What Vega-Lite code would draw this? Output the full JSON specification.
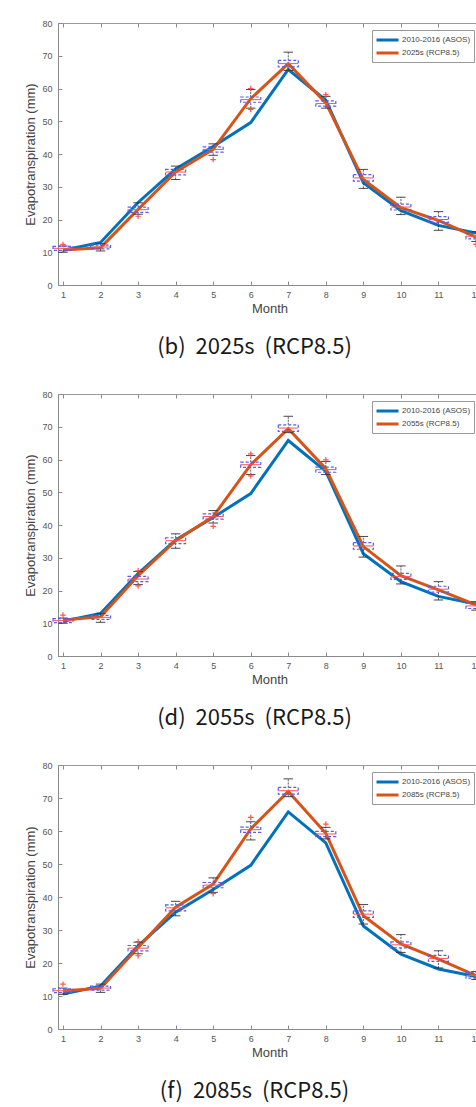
{
  "$schema": "https://vega.github.io/schema/vega-lite/v6.json",
  "padding": {"left": 24, "top": 18, "right": 0, "bottom": 0},
  "background": "white",
  "spacing": 30,
  "config": {
    "view": {"stroke": "#9a9a9a", "strokeWidth": 1},
    "axis": {"domainColor": "#8a8a8a", "tickColor": "#8a8a8a", "labelColor": "#555555", "titleColor": "#444444", "labelFont": "Liberation Sans", "titleFont": "Liberation Sans", "labelFontSize": 9, "titleFontSize": 13, "titleFontWeight": "normal", "grid": false, "tickSize": -4, "labelOverlap": false, "labelSeparation": 0},
    "axisX": {"labelPadding": 9, "titlePadding": 3},
    "axisY": {"labelPadding": 10, "titlePadding": 4},
    "title": {"orient": "bottom", "anchor": "middle", "font": "Noto Sans CJK KR", "fontSize": 22, "fontWeight": "normal", "color": "#1a1a1a", "offset": 22, "dx": -15},
    "legend": {"orient": "none", "legendX": 314, "legendY": 7, "title": null, "strokeColor": "#999999", "fillColor": "white", "padding": 3, "labelFont": "Liberation Sans", "labelFontSize": 8, "labelColor": "#444444", "symbolType": "M-1,0H3", "symbolStrokeWidth": 3, "symbolSize": 121, "rowPadding": 0, "labelOffset": 13}
  },
  "datasets": {
    "obs": [
      {"month": 1, "series": "2010-2016 (ASOS)", "value": 10.6},
      {"month": 2, "series": "2010-2016 (ASOS)", "value": 13.0},
      {"month": 3, "series": "2010-2016 (ASOS)", "value": 25.2},
      {"month": 4, "series": "2010-2016 (ASOS)", "value": 35.4},
      {"month": 5, "series": "2010-2016 (ASOS)", "value": 42.3},
      {"month": 6, "series": "2010-2016 (ASOS)", "value": 49.6},
      {"month": 7, "series": "2010-2016 (ASOS)", "value": 65.8},
      {"month": 8, "series": "2010-2016 (ASOS)", "value": 56.4},
      {"month": 9, "series": "2010-2016 (ASOS)", "value": 31.2},
      {"month": 10, "series": "2010-2016 (ASOS)", "value": 22.7},
      {"month": 11, "series": "2010-2016 (ASOS)", "value": 18.2},
      {"month": 12, "series": "2010-2016 (ASOS)", "value": 15.9}
    ],
    "rcp_b": [
      {"month": 1, "series": "2025s (RCP8.5)", "value": 10.7},
      {"month": 2, "series": "2025s (RCP8.5)", "value": 11.4},
      {"month": 3, "series": "2025s (RCP8.5)", "value": 23.1},
      {"month": 4, "series": "2025s (RCP8.5)", "value": 34.5},
      {"month": 5, "series": "2025s (RCP8.5)", "value": 41.4},
      {"month": 6, "series": "2025s (RCP8.5)", "value": 56.9},
      {"month": 7, "series": "2025s (RCP8.5)", "value": 67.6},
      {"month": 8, "series": "2025s (RCP8.5)", "value": 55.6},
      {"month": 9, "series": "2025s (RCP8.5)", "value": 32.2},
      {"month": 10, "series": "2025s (RCP8.5)", "value": 23.6},
      {"month": 11, "series": "2025s (RCP8.5)", "value": 19.7},
      {"month": 12, "series": "2025s (RCP8.5)", "value": 14.6}
    ],
    "rcp_d": [
      {"month": 1, "series": "2055s (RCP8.5)", "value": 11.0},
      {"month": 2, "series": "2055s (RCP8.5)", "value": 12.0},
      {"month": 3, "series": "2055s (RCP8.5)", "value": 24.5},
      {"month": 4, "series": "2055s (RCP8.5)", "value": 35.2},
      {"month": 5, "series": "2055s (RCP8.5)", "value": 42.6},
      {"month": 6, "series": "2055s (RCP8.5)", "value": 58.4},
      {"month": 7, "series": "2055s (RCP8.5)", "value": 69.4},
      {"month": 8, "series": "2055s (RCP8.5)", "value": 57.2},
      {"month": 9, "series": "2055s (RCP8.5)", "value": 33.4},
      {"month": 10, "series": "2055s (RCP8.5)", "value": 24.5},
      {"month": 11, "series": "2055s (RCP8.5)", "value": 20.2},
      {"month": 12, "series": "2055s (RCP8.5)", "value": 15.6}
    ],
    "rcp_f": [
      {"month": 1, "series": "2085s (RCP8.5)", "value": 11.6},
      {"month": 2, "series": "2085s (RCP8.5)", "value": 12.3},
      {"month": 3, "series": "2085s (RCP8.5)", "value": 24.7},
      {"month": 4, "series": "2085s (RCP8.5)", "value": 36.9},
      {"month": 5, "series": "2085s (RCP8.5)", "value": 43.9},
      {"month": 6, "series": "2085s (RCP8.5)", "value": 60.6},
      {"month": 7, "series": "2085s (RCP8.5)", "value": 72.0},
      {"month": 8, "series": "2085s (RCP8.5)", "value": 59.3},
      {"month": 9, "series": "2085s (RCP8.5)", "value": 34.3},
      {"month": 10, "series": "2085s (RCP8.5)", "value": 25.8},
      {"month": 11, "series": "2085s (RCP8.5)", "value": 21.2},
      {"month": 12, "series": "2085s (RCP8.5)", "value": 16.2}
    ],
    "box_b": [
      {"month": 1, "med": 11.2, "q1": 10.6, "q3": 11.8, "lo": 10.0, "hi": 11.9},
      {"month": 2, "med": 11.6, "q1": 11.0, "q3": 12.2, "lo": 10.4, "hi": 12.6},
      {"month": 3, "med": 23.0, "q1": 22.2, "q3": 23.8, "lo": 21.6, "hi": 25.1},
      {"month": 4, "med": 34.5, "q1": 33.6, "q3": 35.3, "lo": 32.2, "hi": 36.3},
      {"month": 5, "med": 41.4, "q1": 40.6, "q3": 42.2, "lo": 39.6, "hi": 43.1},
      {"month": 6, "med": 56.6, "q1": 55.8, "q3": 57.4, "lo": 54.0, "hi": 59.7},
      {"month": 7, "med": 67.6, "q1": 66.6, "q3": 68.6, "lo": 65.5, "hi": 71.1},
      {"month": 8, "med": 55.4, "q1": 54.6, "q3": 56.2, "lo": 54.0, "hi": 57.6},
      {"month": 9, "med": 32.7, "q1": 31.7, "q3": 33.7, "lo": 29.5, "hi": 35.3},
      {"month": 10, "med": 23.8, "q1": 22.9, "q3": 24.7, "lo": 21.5, "hi": 26.8},
      {"month": 11, "med": 20.0, "q1": 19.1, "q3": 20.9, "lo": 16.7, "hi": 22.4},
      {"month": 12, "med": 14.9, "q1": 14.1, "q3": 15.7, "lo": 13.3, "hi": 16.3}
    ],
    "box_d": [
      {"month": 1, "med": 10.8, "q1": 10.2, "q3": 11.4, "lo": 10.0, "hi": 11.6},
      {"month": 2, "med": 11.8, "q1": 11.2, "q3": 12.4, "lo": 10.3, "hi": 13.0},
      {"month": 3, "med": 23.5, "q1": 22.7, "q3": 24.3, "lo": 21.8, "hi": 25.8},
      {"month": 4, "med": 35.2, "q1": 34.3, "q3": 36.1, "lo": 32.9, "hi": 37.3},
      {"month": 5, "med": 42.6, "q1": 41.8, "q3": 43.4, "lo": 40.6, "hi": 44.4},
      {"month": 6, "med": 58.4, "q1": 57.6, "q3": 59.2, "lo": 55.4, "hi": 61.2},
      {"month": 7, "med": 69.6, "q1": 68.6, "q3": 70.6, "lo": 68.2, "hi": 73.2},
      {"month": 8, "med": 56.9, "q1": 56.1, "q3": 57.7, "lo": 55.4, "hi": 59.4},
      {"month": 9, "med": 33.6, "q1": 32.6, "q3": 34.6, "lo": 30.2, "hi": 36.5},
      {"month": 10, "med": 24.3, "q1": 23.4, "q3": 25.2, "lo": 22.0, "hi": 27.5},
      {"month": 11, "med": 20.4, "q1": 19.5, "q3": 21.3, "lo": 17.1, "hi": 22.7},
      {"month": 12, "med": 15.3, "q1": 14.5, "q3": 16.1, "lo": 14.0, "hi": 16.6}
    ],
    "box_f": [
      {"month": 1, "med": 11.6, "q1": 11.0, "q3": 12.2, "lo": 10.5, "hi": 12.4},
      {"month": 2, "med": 12.4, "q1": 11.8, "q3": 13.0, "lo": 11.1, "hi": 13.6},
      {"month": 3, "med": 24.5, "q1": 23.7, "q3": 25.3, "lo": 22.8, "hi": 26.3},
      {"month": 4, "med": 36.7, "q1": 35.8, "q3": 37.6, "lo": 34.3, "hi": 38.7},
      {"month": 5, "med": 43.6, "q1": 42.8, "q3": 44.4, "lo": 41.4, "hi": 45.8},
      {"month": 6, "med": 60.4, "q1": 59.6, "q3": 61.2, "lo": 57.3, "hi": 62.8},
      {"month": 7, "med": 72.2, "q1": 71.2, "q3": 73.2, "lo": 70.4, "hi": 75.8},
      {"month": 8, "med": 59.1, "q1": 58.3, "q3": 59.9, "lo": 57.6, "hi": 61.1},
      {"month": 9, "med": 34.8, "q1": 33.8, "q3": 35.8, "lo": 31.8, "hi": 37.7},
      {"month": 10, "med": 25.5, "q1": 24.6, "q3": 26.4, "lo": 23.2, "hi": 28.6},
      {"month": 11, "med": 21.4, "q1": 20.5, "q3": 22.3, "lo": 18.5, "hi": 23.7},
      {"month": 12, "med": 16.2, "q1": 15.4, "q3": 17.0, "lo": 15.0, "hi": 17.4}
    ],
    "out_b": [
      {"month": 1, "value": 12.4}, {"month": 3, "value": 21.0}, {"month": 5, "value": 38.3},
      {"month": 6, "value": 60.0}, {"month": 6, "value": 53.6}, {"month": 8, "value": 58.1}, {"month": 12, "value": 12.4}
    ],
    "out_d": [
      {"month": 1, "value": 12.5}, {"month": 3, "value": 21.4}, {"month": 3, "value": 26.0}, {"month": 5, "value": 39.6},
      {"month": 6, "value": 61.7}, {"month": 6, "value": 55.0}, {"month": 8, "value": 59.9}
    ],
    "out_f": [
      {"month": 1, "value": 13.6}, {"month": 3, "value": 22.2}, {"month": 3, "value": 26.5}, {"month": 5, "value": 41.0},
      {"month": 6, "value": 64.1}, {"month": 8, "value": 62.1}
    ]
  },
  "resolve": {"scale": {"color": "independent"}, "legend": {"color": "independent"}},
  "vconcat": [
    {
      "width": 423, "height": 262,
      "title": {"text": "(b)\u00a0 2025s\u00a0 (RCP8.5)"},
      "resolve": {"axis": {"x": "independent", "y": "independent"}},
      "layer": [
        {
          "encoding": {"x": {"field": "month", "type": "quantitative", "scale": {"domain": [1, 12], "nice": false, "zero": false}, "axis": {"values": [1,2,3,4,5,6,7,8,9,10,11,12], "title": "Month", "format": "d", "labelOverlap": false}}},
          "layer": [
            {"data": {"name": "obs"}, "mark": {"type": "line", "strokeWidth": 3}, "encoding": {"y": {"field": "value", "type": "quantitative", "scale": {"domain": [0, 80], "nice": false}, "axis": {"tickCount": 8, "title": "Evapotranspiration (mm)", "labelOverlap": false, "format": "d"}}, "color": {"field": "series", "type": "nominal", "scale": {"domain": ["2010-2016 (ASOS)", "2025s (RCP8.5)"], "range": ["#0072BD", "#D95319"]}}}},
            {"data": {"name": "rcp_b"}, "mark": {"type": "line", "strokeWidth": 3}, "encoding": {"y": {"field": "value", "type": "quantitative"}, "color": {"field": "series", "type": "nominal"}}},
            {"data": {"name": "box_b"}, "mark": {"type": "rule", "color": "#333333", "strokeWidth": 0.8, "strokeDash": [2, 1]}, "encoding": {"y": {"field": "lo", "type": "quantitative"}, "y2": {"field": "q1"}}},
            {"data": {"name": "box_b"}, "mark": {"type": "rule", "color": "#333333", "strokeWidth": 0.8, "strokeDash": [2, 1]}, "encoding": {"y": {"field": "q3", "type": "quantitative"}, "y2": {"field": "hi"}}},
            {"data": {"name": "box_b"}, "mark": {"type": "point", "shape": "M-1,0H1", "size": 90, "filled": false, "stroke": "#333333", "strokeWidth": 0.9, "opacity": 1}, "encoding": {"y": {"field": "lo", "type": "quantitative"}}},
            {"data": {"name": "box_b"}, "mark": {"type": "point", "shape": "M-1,0H1", "size": 90, "filled": false, "stroke": "#333333", "strokeWidth": 0.9, "opacity": 1}, "encoding": {"y": {"field": "hi", "type": "quantitative"}}},
            {"data": {"name": "box_b"}, "mark": {"type": "bar", "width": 20, "fill": "transparent", "stroke": "#5a5af0", "strokeWidth": 1.2, "strokeDash": [3, 2]}, "encoding": {"y": {"field": "q1", "type": "quantitative"}, "y2": {"field": "q3"}}},
            {"data": {"name": "box_b"}, "mark": {"type": "point", "shape": "M-1,0H1", "size": 380, "filled": false, "stroke": "#ff5050", "strokeWidth": 1, "opacity": 1}, "encoding": {"y": {"field": "med", "type": "quantitative"}}},
            {"data": {"name": "out_b"}, "mark": {"type": "point", "shape": "M-1,0H1M0,-1V1", "size": 30, "filled": false, "stroke": "#ff4040", "strokeWidth": 1.2, "opacity": 0.9}, "encoding": {"y": {"field": "value", "type": "quantitative"}}}
          ]
        },
        {"data": {"name": "obs"}, "mark": {"type": "point", "opacity": 0}, "encoding": {"x": {"field": "month", "type": "quantitative", "scale": {"domain": [1, 12], "nice": false, "zero": false}, "axis": {"orient": "top", "values": [1,2,3,4,5,6,7,8,9,10,11,12], "labels": false, "title": null, "domain": false}}, "y": {"field": "value", "type": "quantitative", "scale": {"domain": [0, 80], "nice": false}, "axis": {"orient": "right", "tickCount": 8, "labels": false, "title": null, "domain": false}}}}
      ]
    },
    {
      "width": 423, "height": 262,
      "title": {"text": "(d)\u00a0 2055s\u00a0 (RCP8.5)"},
      "resolve": {"axis": {"x": "independent", "y": "independent"}},
      "layer": [
        {
          "encoding": {"x": {"field": "month", "type": "quantitative", "scale": {"domain": [1, 12], "nice": false, "zero": false}, "axis": {"values": [1,2,3,4,5,6,7,8,9,10,11,12], "title": "Month", "format": "d", "labelOverlap": false}}},
          "layer": [
            {"data": {"name": "obs"}, "mark": {"type": "line", "strokeWidth": 3}, "encoding": {"y": {"field": "value", "type": "quantitative", "scale": {"domain": [0, 80], "nice": false}, "axis": {"tickCount": 8, "title": "Evapotranspiration (mm)", "labelOverlap": false, "format": "d"}}, "color": {"field": "series", "type": "nominal", "scale": {"domain": ["2010-2016 (ASOS)", "2055s (RCP8.5)"], "range": ["#0072BD", "#D95319"]}}}},
            {"data": {"name": "rcp_d"}, "mark": {"type": "line", "strokeWidth": 3}, "encoding": {"y": {"field": "value", "type": "quantitative"}, "color": {"field": "series", "type": "nominal"}}},
            {"data": {"name": "box_d"}, "mark": {"type": "rule", "color": "#333333", "strokeWidth": 0.8, "strokeDash": [2, 1]}, "encoding": {"y": {"field": "lo", "type": "quantitative"}, "y2": {"field": "q1"}}},
            {"data": {"name": "box_d"}, "mark": {"type": "rule", "color": "#333333", "strokeWidth": 0.8, "strokeDash": [2, 1]}, "encoding": {"y": {"field": "q3", "type": "quantitative"}, "y2": {"field": "hi"}}},
            {"data": {"name": "box_d"}, "mark": {"type": "point", "shape": "M-1,0H1", "size": 90, "filled": false, "stroke": "#333333", "strokeWidth": 0.9, "opacity": 1}, "encoding": {"y": {"field": "lo", "type": "quantitative"}}},
            {"data": {"name": "box_d"}, "mark": {"type": "point", "shape": "M-1,0H1", "size": 90, "filled": false, "stroke": "#333333", "strokeWidth": 0.9, "opacity": 1}, "encoding": {"y": {"field": "hi", "type": "quantitative"}}},
            {"data": {"name": "box_d"}, "mark": {"type": "bar", "width": 20, "fill": "transparent", "stroke": "#5a5af0", "strokeWidth": 1.2, "strokeDash": [3, 2]}, "encoding": {"y": {"field": "q1", "type": "quantitative"}, "y2": {"field": "q3"}}},
            {"data": {"name": "box_d"}, "mark": {"type": "point", "shape": "M-1,0H1", "size": 380, "filled": false, "stroke": "#ff5050", "strokeWidth": 1, "opacity": 1}, "encoding": {"y": {"field": "med", "type": "quantitative"}}},
            {"data": {"name": "out_d"}, "mark": {"type": "point", "shape": "M-1,0H1M0,-1V1", "size": 30, "filled": false, "stroke": "#ff4040", "strokeWidth": 1.2, "opacity": 0.9}, "encoding": {"y": {"field": "value", "type": "quantitative"}}}
          ]
        },
        {"data": {"name": "obs"}, "mark": {"type": "point", "opacity": 0}, "encoding": {"x": {"field": "month", "type": "quantitative", "scale": {"domain": [1, 12], "nice": false, "zero": false}, "axis": {"orient": "top", "values": [1,2,3,4,5,6,7,8,9,10,11,12], "labels": false, "title": null, "domain": false}}, "y": {"field": "value", "type": "quantitative", "scale": {"domain": [0, 80], "nice": false}, "axis": {"orient": "right", "tickCount": 8, "labels": false, "title": null, "domain": false}}}}
      ]
    },
    {
      "width": 423, "height": 264,
      "title": {"text": "(f)\u00a0 2085s\u00a0 (RCP8.5)"},
      "resolve": {"axis": {"x": "independent", "y": "independent"}},
      "layer": [
        {
          "encoding": {"x": {"field": "month", "type": "quantitative", "scale": {"domain": [1, 12], "nice": false, "zero": false}, "axis": {"values": [1,2,3,4,5,6,7,8,9,10,11,12], "title": "Month", "format": "d", "labelOverlap": false}}},
          "layer": [
            {"data": {"name": "obs"}, "mark": {"type": "line", "strokeWidth": 3}, "encoding": {"y": {"field": "value", "type": "quantitative", "scale": {"domain": [0, 80], "nice": false}, "axis": {"tickCount": 8, "title": "Evapotranspiration (mm)", "labelOverlap": false, "format": "d"}}, "color": {"field": "series", "type": "nominal", "scale": {"domain": ["2010-2016 (ASOS)", "2085s (RCP8.5)"], "range": ["#0072BD", "#D95319"]}}}},
            {"data": {"name": "rcp_f"}, "mark": {"type": "line", "strokeWidth": 3}, "encoding": {"y": {"field": "value", "type": "quantitative"}, "color": {"field": "series", "type": "nominal"}}},
            {"data": {"name": "box_f"}, "mark": {"type": "rule", "color": "#333333", "strokeWidth": 0.8, "strokeDash": [2, 1]}, "encoding": {"y": {"field": "lo", "type": "quantitative"}, "y2": {"field": "q1"}}},
            {"data": {"name": "box_f"}, "mark": {"type": "rule", "color": "#333333", "strokeWidth": 0.8, "strokeDash": [2, 1]}, "encoding": {"y": {"field": "q3", "type": "quantitative"}, "y2": {"field": "hi"}}},
            {"data": {"name": "box_f"}, "mark": {"type": "point", "shape": "M-1,0H1", "size": 90, "filled": false, "stroke": "#333333", "strokeWidth": 0.9, "opacity": 1}, "encoding": {"y": {"field": "lo", "type": "quantitative"}}},
            {"data": {"name": "box_f"}, "mark": {"type": "point", "shape": "M-1,0H1", "size": 90, "filled": false, "stroke": "#333333", "strokeWidth": 0.9, "opacity": 1}, "encoding": {"y": {"field": "hi", "type": "quantitative"}}},
            {"data": {"name": "box_f"}, "mark": {"type": "bar", "width": 20, "fill": "transparent", "stroke": "#5a5af0", "strokeWidth": 1.2, "strokeDash": [3, 2]}, "encoding": {"y": {"field": "q1", "type": "quantitative"}, "y2": {"field": "q3"}}},
            {"data": {"name": "box_f"}, "mark": {"type": "point", "shape": "M-1,0H1", "size": 380, "filled": false, "stroke": "#ff5050", "strokeWidth": 1, "opacity": 1}, "encoding": {"y": {"field": "med", "type": "quantitative"}}},
            {"data": {"name": "out_f"}, "mark": {"type": "point", "shape": "M-1,0H1M0,-1V1", "size": 30, "filled": false, "stroke": "#ff4040", "strokeWidth": 1.2, "opacity": 0.9}, "encoding": {"y": {"field": "value", "type": "quantitative"}}}
          ]
        },
        {"data": {"name": "obs"}, "mark": {"type": "point", "opacity": 0}, "encoding": {"x": {"field": "month", "type": "quantitative", "scale": {"domain": [1, 12], "nice": false, "zero": false}, "axis": {"orient": "top", "values": [1,2,3,4,5,6,7,8,9,10,11,12], "labels": false, "title": null, "domain": false}}, "y": {"field": "value", "type": "quantitative", "scale": {"domain": [0, 80], "nice": false}, "axis": {"orient": "right", "tickCount": 8, "labels": false, "title": null, "domain": false}}}}
      ]
    }
  ]
}
